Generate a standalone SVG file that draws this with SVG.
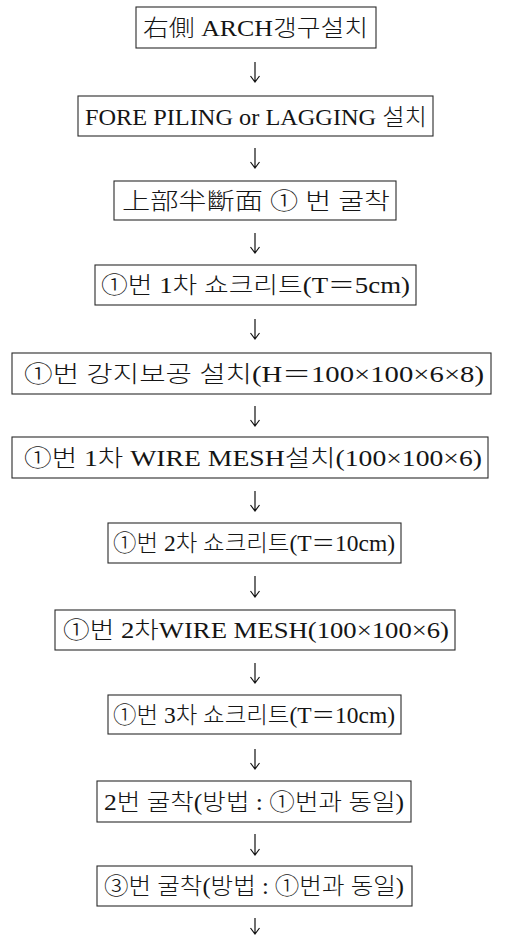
<svg xmlns="http://www.w3.org/2000/svg" width="507" height="937" viewBox="0 0 507 937">
  <style>
    .box { fill: #ffffff; stroke: #2a2a2a; stroke-width: 1.1; }
    .lbl { font-family: "Liberation Serif", "Noto Sans CJK KR", serif; font-size: 23px; font-weight: 300; fill: #151515; dominant-baseline: central; }
    .arr { fill: none; stroke: #111111; stroke-width: 1.2; }
  </style>
  <rect width="507" height="937" fill="#ffffff"/>

  <!-- connectors: down arrows between steps -->
  <g id="connectors">
    <path class="arr" d="M255,62 V82 M250.5,76 L255,82 L259.5,76"/>
    <path class="arr" d="M255,148 V168 M250.5,162 L255,168 L259.5,162"/>
    <path class="arr" d="M255,233 V253 M250.5,247 L255,253 L259.5,247"/>
    <path class="arr" d="M255,319 V339 M250.5,333 L255,339 L259.5,333"/>
    <path class="arr" d="M255,406 V426 M250.5,420 L255,426 L259.5,420"/>
    <path class="arr" d="M255,491 V511 M250.5,505 L255,511 L259.5,505"/>
    <path class="arr" d="M255,576 V597 M250.5,591 L255,597 L259.5,591"/>
    <path class="arr" d="M255,663 V683 M250.5,677 L255,683 L259.5,677"/>
    <path class="arr" d="M255,749 V769 M250.5,763 L255,769 L259.5,763"/>
    <path class="arr" d="M255,834 V855 M250.5,849 L255,855 L259.5,849"/>
    <path class="arr" d="M255,918 V934 M250.5,928 L255,934 L259.5,928"/>
  </g>

  <g id="step1">
    <rect class="box" x="136" y="7" width="240" height="41"/>
    <text class="lbl" x="143" y="28" textLength="225" lengthAdjust="spacingAndGlyphs">右側  ARCH갱구설치</text>
  </g>
  <g id="step2">
    <rect class="box" x="78" y="96" width="355" height="40"/>
    <text class="lbl" x="85" y="117" textLength="342" lengthAdjust="spacingAndGlyphs">FORE PILING or LAGGING 설치</text>
  </g>
  <g id="step3">
    <rect class="box" x="114" y="181" width="282" height="39"/>
    <text class="lbl" x="122" y="201" textLength="268" lengthAdjust="spacingAndGlyphs">上部半斷面 ① 번 굴착</text>
  </g>
  <g id="step4">
    <rect class="box" x="95" y="265" width="321" height="40"/>
    <text class="lbl" x="101" y="285" textLength="309" lengthAdjust="spacingAndGlyphs">①번 1차 쇼크리트(T＝5cm)</text>
  </g>
  <g id="step5">
    <rect class="box" x="12" y="353" width="479" height="41"/>
    <text class="lbl" x="24" y="374" textLength="460" lengthAdjust="spacingAndGlyphs">①번 강지보공 설치(H＝100×100×6×8)</text>
  </g>
  <g id="step6">
    <rect class="box" x="12" y="437" width="476" height="41"/>
    <text class="lbl" x="24" y="458" textLength="458" lengthAdjust="spacingAndGlyphs">①번 1차 WIRE MESH설치(100×100×6)</text>
  </g>
  <g id="step7">
    <rect class="box" x="108" y="523" width="293" height="40"/>
    <text class="lbl" x="113" y="543" textLength="282" lengthAdjust="spacingAndGlyphs">①번 2차 쇼크리트(T＝10cm)</text>
  </g>
  <g id="step8">
    <rect class="box" x="55" y="610" width="400" height="40"/>
    <text class="lbl" x="63" y="630" textLength="386" lengthAdjust="spacingAndGlyphs">①번 2차WIRE MESH(100×100×6)</text>
  </g>
  <g id="step9">
    <rect class="box" x="108" y="695" width="293" height="39"/>
    <text class="lbl" x="113" y="715" textLength="282" lengthAdjust="spacingAndGlyphs">①번 3차 쇼크리트(T＝10cm)</text>
  </g>
  <g id="step10">
    <rect class="box" x="97" y="781" width="314" height="41"/>
    <text class="lbl" x="104" y="802" textLength="300" lengthAdjust="spacingAndGlyphs">2번 굴착(방법 : ①번과 동일)</text>
  </g>
  <g id="step11">
    <rect class="box" x="97" y="866" width="315" height="40"/>
    <text class="lbl" x="104" y="886" textLength="300" lengthAdjust="spacingAndGlyphs">③번 굴착(방법 : ①번과 동일)</text>
  </g>
</svg>
